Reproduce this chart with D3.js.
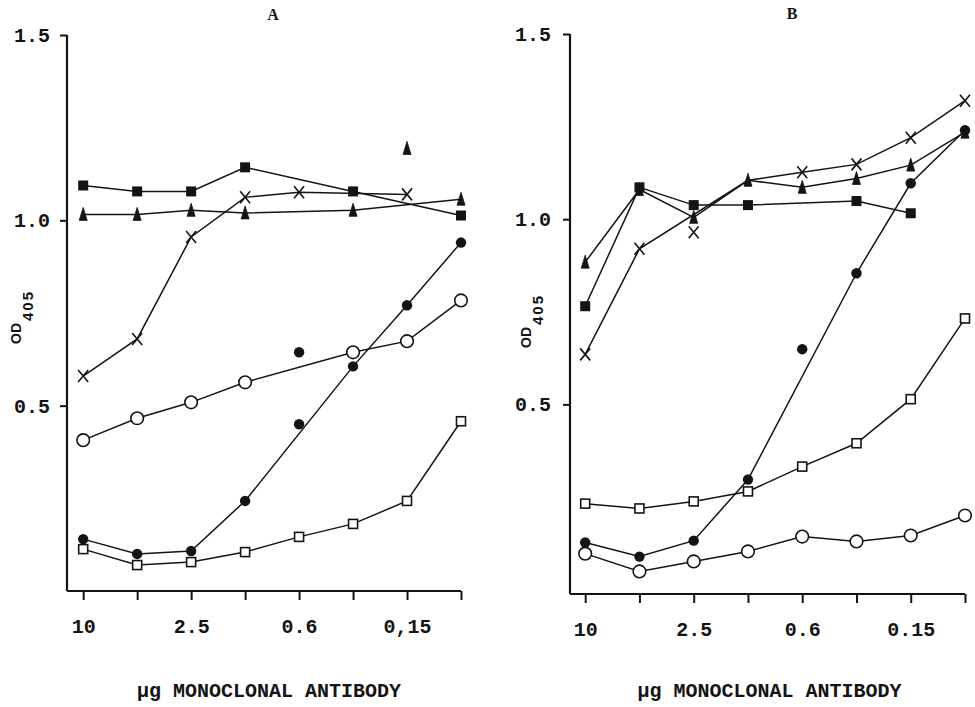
<!DOCTYPE html>
<html><head><meta charset="utf-8">
<script src="https://cdn.jsdelivr.net/npm/d3@7"></script>
<style>html,body{margin:0;padding:0;background:#fff;}svg{display:block;}</style>
</head><body>
<svg id="chart" width="975" height="707"></svg>
<script>
// ---------- data ----------
const xLabelsA = ["10","","2.5","","0.6","","0,15",""];
const xLabelsB = ["10","","2.5","","0.6","","0.15",""];
const yTicks = [0.5, 1.0, 1.5];
const yTickLabelsA = ["0.5","1.0","1.5"];
const yTickLabelsB = ["0.5","1.0","1.5"];

// Panel A (index = dilution step 0..7)
const aSqFilled = [1.094,1.078,1.078,1.143,null,1.078,null,1.013];
const aTri      = [1.016,1.016,1.027,1.020,null,1.027,null,1.057];
const aTriExtra = [null,null,null,null,null,null,1.194,null];
const aCross    = [0.58,0.68,0.955,1.062,1.076,null,1.07,null];
const aDot      = [0.14,0.10,0.108,0.243,null,0.606,0.771,0.94];
const aDotExtra1= [null,null,null,null,0.45,null,null,null];
const aDotExtra2= [null,null,null,null,0.644,null,null,null];
const aCircle   = [0.407,0.466,0.509,0.563,null,0.644,0.674,0.784];
const aSqOpen   = [0.113,0.07,0.078,0.105,0.146,0.181,0.243,0.458];

// Panel B
const bSqFilled = [0.765,1.086,1.038,1.038,null,1.049,1.016,null];
const bTri      = [0.884,1.08,1.005,1.105,1.086,1.11,1.146,1.235];
const bCross    = [0.635,0.92,null,1.105,1.127,1.148,1.22,1.32];
const bCrossMarks=[0.635,0.92,0.965,null,1.127,1.148,1.22,1.32];
const bDot      = [0.127,0.089,0.132,0.297,null,0.854,1.097,1.24];
const bDotExtra = [null,null,null,null,0.649,null,null,null];
const bCircle   = [0.097,0.049,0.076,0.103,0.143,0.13,0.146,0.2];
const bSqOpen   = [0.232,0.219,0.238,0.265,0.332,0.395,0.514,0.732];

// ---------- drawing ----------
const svg = d3.select("#chart");
const INK = "#141414";
const steps = d3.range(8);

function pts(arr){ return steps.filter(i => arr[i] != null).map(i => [i, arr[i]]); }

function symbol(g, type, x, y){
  const s = g.append("g").attr("transform", `translate(${x},${y})`);
  if (type === "sqf") s.append("rect").attr("x",-5).attr("y",-5).attr("width",10).attr("height",10).attr("fill",INK);
  else if (type === "sqo") s.append("rect").attr("x",-4.5).attr("y",-4.5).attr("width",9).attr("height",9).attr("fill","#fff").attr("stroke",INK).attr("stroke-width",1.6);
  else if (type === "tri") s.append("path").attr("d","M0,-7 L4,6 L-4,6 Z").attr("fill",INK).attr("stroke",INK).attr("stroke-width",0.8);
  else if (type === "dot") s.append("circle").attr("r",5.2).attr("fill",INK);
  else if (type === "cir") s.append("circle").attr("r",6.3).attr("fill","#fff").attr("stroke",INK).attr("stroke-width",1.6);
  else if (type === "x") s.append("path").attr("d","M-5,-6 L5,6 M5,-6 L-5,6").attr("stroke",INK).attr("stroke-width",1.6).attr("fill","none");
}

function panel(cfg){
  const g = svg.append("g");
  const x = d3.scaleLinear().domain([cfg.x0, 7]).range(cfg.xr);
  const y = d3.scaleLinear().domain([cfg.y0, 1.5]).range(cfg.yr);
  const yBase = y(cfg.y0);

  // axes
  const xAxis = d3.axisBottom(x).tickValues(steps).tickSize(9).tickFormat(i => cfg.xLabels[i]).tickSizeOuter(0);
  const gx = g.append("g").attr("transform", `translate(0,${yBase})`).call(xAxis);
  gx.select(".domain").attr("d", `M${cfg.xr[0]},0H${cfg.xr[1]}`).attr("stroke",INK).attr("stroke-width",2.2);
  gx.selectAll(".tick line").attr("stroke",INK).attr("stroke-width",2);
  gx.selectAll(".tick text").attr("dy","1.5em").attr("fill",INK)
    .style("font-family","'Liberation Mono', 'DejaVu Sans Mono', monospace").style("font-weight","bold").style("font-size","20px");

  const yAxis = d3.axisLeft(y).tickValues(yTicks).tickSize(7).tickPadding(cfg.yPad)
    .tickFormat((d,i) => cfg.yLabels[i]).tickSizeOuter(0);
  const gy = g.append("g").attr("transform", `translate(${cfg.xr[0]},0)`).call(yAxis);
  gy.select(".domain").attr("d", `M0,${y(1.5)}V${yBase}`).attr("stroke",INK).attr("stroke-width",2.2);
  gy.selectAll(".tick line").attr("stroke",INK).attr("stroke-width",2);
  gy.selectAll(".tick text").attr("fill",INK)
    .style("font-family","'Liberation Mono', 'DejaVu Sans Mono', monospace").style("font-weight","bold").style("font-size","20px");

  // y title OD405
  const yt = g.append("text").attr("transform", `translate(${cfg.ytX},${cfg.ytY}) rotate(-90)`)
    .attr("fill",INK).style("font-family","'Liberation Sans', Arial, sans-serif").style("font-weight","bold").style("font-size","14px");
  yt.append("tspan").text("OD");
  yt.append("tspan").attr("dy", 12).attr("dx", 2).style("font-size","15px").attr("letter-spacing","2").text("405");

  // x title
  g.append("text").attr("x", (cfg.xr[0]+cfg.xr[1])/2 + cfg.xtDx).attr("y", cfg.xtY).attr("text-anchor","middle")
    .attr("fill",INK).style("font-family","'Liberation Mono', 'Courier New', monospace").style("font-weight","bold").style("font-size","20px")
    .text("\u00b5g MONOCLONAL ANTIBODY");

  // panel title
  g.append("text").attr("x", cfg.titleX).attr("y", cfg.titleY).attr("text-anchor","middle").attr("fill",INK)
    .style("font-family","'Liberation Serif', 'Times New Roman', serif").style("font-weight","bold").style("font-size","16px")
    .text(cfg.title);

  const line = d3.line().x(d => x(d[0])).y(d => y(d[1]));
  cfg.lines.forEach(arr => {
    g.append("path").datum(pts(arr)).attr("d", line).attr("fill","none").attr("stroke",INK).attr("stroke-width",1.5);
  });
  cfg.marks.forEach(([arr, type]) => {
    pts(arr).forEach(d => symbol(g, type, x(d[0]), y(d[1])));
  });
}

panel({
  title:"A", titleX:273, titleY:20,
  x0:-0.3, xr:[67,461], y0:0, yr:[591,35], yPad:10,
  xLabels:xLabelsA, yLabels:yTickLabelsA,
  ytX:21, ytY:344, xtDx:5, xtY:697,
  lines:[aSqFilled, aTri, aCross, aDot, aCircle, aSqOpen],
  marks:[[aSqOpen,"sqo"],[aCircle,"cir"],[aDot,"dot"],[aDotExtra1,"dot"],[aDotExtra2,"dot"],
         [aCross,"x"],[aTri,"tri"],[aTriExtra,"tri"],[aSqFilled,"sqf"]]
});

panel({
  title:"B", titleX:792, titleY:19,
  x0:-0.28, xr:[570,965], y0:-0.012, yr:[594,34], yPad:12,
  xLabels:xLabelsB, yLabels:yTickLabelsB,
  ytX:531, ytY:348, xtDx:2, xtY:697,
  lines:[bSqFilled, bTri, bCross, bDot, bCircle, bSqOpen],
  marks:[[bSqOpen,"sqo"],[bCircle,"cir"],[bDot,"dot"],[bDotExtra,"dot"],
         [bCrossMarks,"x"],[bTri,"tri"],[bSqFilled,"sqf"]]
});
</script>
</body></html>
